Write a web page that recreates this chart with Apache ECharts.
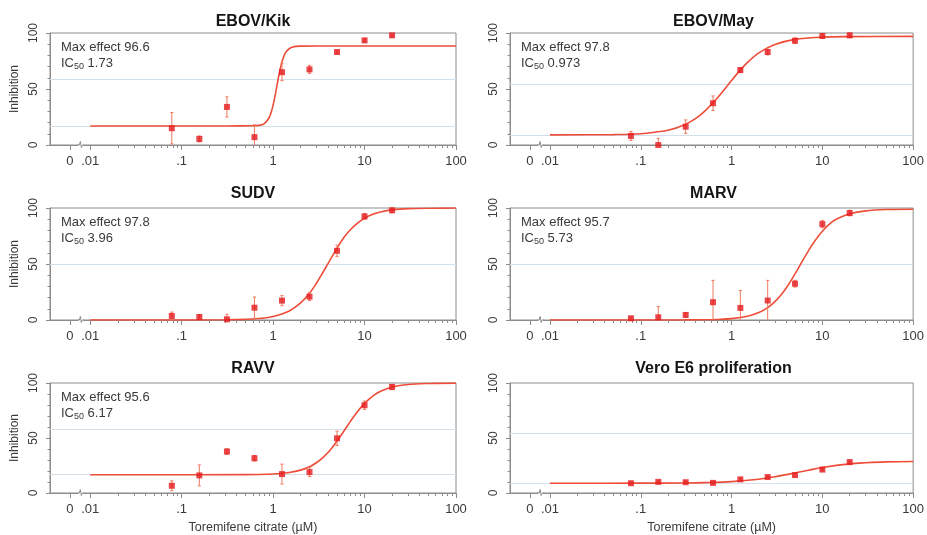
<!DOCTYPE html>
<html><head><meta charset="utf-8">
<script src="https://cdn.jsdelivr.net/npm/echarts@6/dist/echarts.min.js"></script>
<style>html,body{margin:0;padding:0;background:#fff}#c{width:927px;height:535px}</style>
</head><body><div id="c"></div>
<script>
// ---------- data ----------
const concentrations = [0.078, 0.156, 0.3125, 0.625, 1.25, 2.5, 5, 10, 20];
const panelTitles = ['EBOV/Kik', 'EBOV/May', 'SUDV', 'MARV', 'RAVV', 'Vero E6 proliferation'];
const maxEffect = ['96.6', '97.8', '97.8', '95.7', '95.6', null];
const ic50 = ['1.73', '0.973', '3.96', '5.73', '6.17', null];
const xTickValues = [0.006, 0.01, 0.1, 1, 10, 100];
const xTickLabels = ['0', '.01', '.1', '1', '10', '100'];
const breakConc = 0.0079;

const kikMean = [15, 5.4, 34, 7, 65, 67.5, 83, 93.4, 97.9];
const kikErr  = [14, 2.7, 9, 11, 7.5, 3.6, 1.2, 1.2, 1.2];
const kikFitX = [0.01, 0.3, 0.6, 0.7, 0.8, 0.9, 0.95, 1.0, 1.05, 1.1, 1.15, 1.2, 1.3, 1.4, 1.6, 2, 5, 100];
const kikFitY = [17, 17, 17.2, 17.5, 19.1, 24.1, 28.9, 35.6, 43.8, 52.7, 61.3, 68.6, 78.6, 83.7, 87.3, 88.3, 88.4, 88.4];

const mayMean = [8.1, 0, 16.4, 37.3, 66.9, 83, 93.1, 97.3, 97.9];
const mayErr  = [4, 6, 6, 6.5, 2, 2.5, 2.5, 2, 2];
const mayFitX = [0.01, 0.05, 0.1, 0.2, 0.3, 0.4, 0.5, 0.7, 0.9, 1.2, 1.5, 2, 3, 5, 10, 20, 100];
const mayFitY = [9, 9.3, 10.1, 13.1, 17.8, 23.5, 29.8, 42.2, 53, 65.3, 73.7, 82.2, 89.7, 94.3, 96.3, 96.8, 97];

const sudvMean = [3.6, 2.7, 0.6, 11, 17.3, 20.9, 61.8, 92.5, 97.9];
const sudvErr  = [3.5, 2, 4.5, 9.5, 4.5, 3.5, 5, 2.5, 2];
const sudvFitX = [0.01, 0.1, 0.3, 0.5, 0.7, 1, 1.5, 2, 2.5, 3, 3.5, 4, 5, 6, 7, 8.5, 10, 12.5, 15, 20, 30, 50, 100];
const sudvFitY = [0, 0, 0.2, 0.6, 1.3, 3.1, 8.1, 15.3, 23.9, 33.3, 42.4, 50.6, 64.2, 74.1, 80.6, 86.9, 91, 94.6, 96.5, 98.3, 99.4, 99.8, 100];

const marvMean = [1.5, 2.4, 4.5, 15.9, 10.8, 17.4, 32.4, 85.6, 95.5];
const marvErr  = [1, 9.6, 2, 19.5, 15.6, 18, 3, 3.2, 2.5];
const marvFitX = [0.01, 0.3, 0.5, 0.7, 1, 1.5, 2, 2.5, 3, 3.5, 4, 4.5, 5, 6, 7, 8, 10, 12.5, 15, 20, 30, 50, 100];
const marvFitY = [0, 0.1, 0.2, 0.5, 1.2, 3.4, 6.6, 11, 16.4, 22.3, 28.6, 34.9, 41.1, 52.4, 61.5, 69, 79.3, 87, 90.8, 94.8, 97.4, 98.6, 98.9];

const ravvMean = [6.6, 16, 37.7, 31.6, 17.2, 19, 49.7, 79.8, 96.4];
const ravvErr  = [4.5, 9.5, 2.5, 2.5, 9, 4, 6.5, 3.8, 2.5];
const ravvFitX = [0.01, 0.5, 1, 1.5, 2, 2.5, 3, 3.5, 4, 4.5, 5, 6, 7, 8, 10, 12.5, 15, 20, 30, 50, 100];
const ravvFitY = [16.6, 16.7, 17.3, 18.7, 20.8, 23.8, 27.7, 32.2, 37, 42.1, 47.2, 56.8, 65.1, 71.9, 81.5, 88.6, 92.5, 96.3, 98.7, 99.6, 99.9];

const veroMean = [8.9, 10.1, 9.8, 9.2, 12.4, 14.5, 16.3, 21.3, 28.1];
const veroErr  = [1, 1, 1, 1, 1, 1, 1.2, 1, 1];
const veroFitX = [0.01, 0.1, 0.3, 0.5, 1, 2, 3, 5, 7, 10, 20, 30, 50, 100];
const veroFitY = [8.9, 8.95, 9.15, 9.44, 10.35, 12.5, 14.7, 18.2, 20.7, 23.2, 26.5, 27.5, 28.3, 28.7];

const refLow = [17, 9, 0, 0, 16.6, 8.9];
const refMid = [58.5, 54.5, 50, 50, 58.3, 54.45];

// ---------- build ----------
const panels = [
  [kikMean, kikErr, kikFitX, kikFitY],
  [mayMean, mayErr, mayFitX, mayFitY],
  [sudvMean, sudvErr, sudvFitX, sudvFitY],
  [marvMean, marvErr, marvFitX, marvFitY],
  [ravvMean, ravvErr, ravvFitX, ravvFitY],
  [veroMean, veroErr, veroFitX, veroFitY]
];
const L = Math.log10;
const FONT = "'Liberation Sans', Arial, Helvetica, sans-serif";
const AX = '#8c8c8c';
const TXT = '#3a3a3a';
const RED = '#e5191d';
const CURVE = '#ee4d39';
const ERR = '#f07a5c';
const XMIN = -2.44, XMAX = 2;
const majorTicks = xTickValues.map(L);
const minorTicks = [];
for (let d = -2; d < 2; d++) for (let k = 2; k <= 9; k++) minorTicks.push(d + L(k));
const layout = [
  {left: 50, width: 406, top: 33, height: 112},
  {left: 510, width: 407, top: 33, height: 112},
  {left: 50, width: 406, top: 208, height: 112},
  {left: 510, width: 407, top: 208, height: 112},
  {left: 50, width: 406, top: 383, height: 111},
  {left: 510, width: 407, top: 383, height: 111}
];
const titleY = [22, 22, 194, 194, 369, 369];

const grids = [], xAxes = [], yAxes = [], series = [], graphics = [];
panels.forEach((p, i) => {
  const [mean, err, fx, fy] = p;
  const g = layout[i];
  const isLeft = i % 2 === 0;
  const isBottom = i >= 4;
  grids.push({left: g.left, top: g.top, width: g.width, height: g.height, show: true,
    borderColor: AX, borderWidth: 1, backgroundColor: 'transparent'});
  xAxes.push({
    type: 'value', gridIndex: i, min: XMIN, max: XMAX, position: 'bottom',
    axisLine: {show: true, onZero: false, lineStyle: {color: AX, width: 1}},
    axisTick: {show: true, customValues: majorTicks, length: 5, lineStyle: {color: AX}},
    axisLabel: {customValues: majorTicks, fontSize: 13, color: TXT, fontFamily: FONT, margin: 10,
      showMinLabel: true, showMaxLabel: true, hideOverlap: false,
      formatter: v => { const k = majorTicks.findIndex(t => Math.abs(t - v) < 1e-6); return k >= 0 ? xTickLabels[k] : ''; }},
    splitLine: {show: false},
    name: isBottom ? 'Toremifene citrate (\u00b5M)' : '', nameLocation: 'middle', nameGap: 28,
    nameTextStyle: {fontSize: 12.5, color: TXT, fontFamily: FONT}
  });
  xAxes.push({
    type: 'value', gridIndex: i, min: XMIN, max: XMAX, position: 'bottom', offset: 0,
    axisLine: {show: false, onZero: false},
    axisTick: {show: true, customValues: minorTicks, length: 3, lineStyle: {color: AX}},
    axisLabel: {show: false}, splitLine: {show: false}
  });
  yAxes.push({
    type: 'value', gridIndex: i, min: 0, max: 100, interval: 50, position: 'left',
    axisLine: {show: true, onZero: false, lineStyle: {color: AX}},
    axisTick: {show: true, length: 4, lineStyle: {color: AX}},
    minorTick: {show: true, splitNumber: 5, length: 2.5, lineStyle: {color: AX}},
    axisLabel: {rotate: 90, fontSize: 12, color: TXT, fontFamily: FONT, margin: 10},
    splitLine: {show: false}, minorSplitLine: {show: false},
    name: isLeft ? 'Inhibition' : '', nameLocation: 'middle', nameGap: 29,
    nameTextStyle: {fontSize: 12, color: TXT, fontFamily: FONT}
  });
  const refs = [refMid[i]];
  if (refLow[i] > 0) refs.push(refLow[i]);
  series.push({
    type: 'line', xAxisIndex: 2 * i, yAxisIndex: i, z: 1, data: [], silent: true,
    markLine: {silent: true, z: 1, symbol: ['none', 'none'], label: {show: false}, animation: false,
      lineStyle: {color: '#d4e0e9', width: 1, type: 'solid'},
      emphasis: {disabled: true},
      data: refs.map(v => ({yAxis: v}))}
  });
  series.push({
    type: 'line', xAxisIndex: 2 * i, yAxisIndex: i, z: 3,
    data: fx.map((c, j) => [L(c), fy[j]]),
    smooth: 0.35, showSymbol: false, clip: true,
    lineStyle: {color: CURVE, width: 1.6}
  });
  series.push({
    type: 'custom', xAxisIndex: 2 * i, yAxisIndex: i, z: 4,
    data: concentrations.map((c, j) => [L(c), mean[j], err[j]]),
    renderItem: (params, api) => {
      const x = api.value(0), y = api.value(1), e = api.value(2);
      const hi = api.coord([x, Math.min(y + e, 100)]);
      const lo = api.coord([x, Math.max(y - e, 0)]);
      const ch = [{type: 'line', shape: {x1: hi[0], y1: hi[1], x2: lo[0], y2: lo[1]}, style: {stroke: ERR, lineWidth: 1}}];
      if (y + e <= 100) ch.push({type: 'line', shape: {x1: hi[0] - 1.6, y1: hi[1], x2: hi[0] + 1.6, y2: hi[1]}, style: {stroke: ERR, lineWidth: 1}});
      if (y - e >= 0) ch.push({type: 'line', shape: {x1: lo[0] - 1.6, y1: lo[1], x2: lo[0] + 1.6, y2: lo[1]}, style: {stroke: ERR, lineWidth: 1}});
      return {type: 'group', children: ch};
    }
  });
  series.push({
    type: 'scatter', xAxisIndex: 2 * i, yAxisIndex: i, z: 5, clip: true,
    symbol: 'rect', symbolSize: 6, itemStyle: {color: RED},
    data: concentrations.map((c, j) => [L(c), mean[j]])
  });
  series.push({
    type: 'custom', xAxisIndex: 2 * i, yAxisIndex: i, z: 6,
    data: [[L(breakConc), 0]],
    renderItem: (params, api) => {
      const q = api.coord([api.value(0), api.value(1)]);
      return {type: 'group', children: [
        {type: 'rect', shape: {x: q[0] - 2.5, y: q[1] - 1.5, width: 5, height: 3}, style: {fill: '#fff'}},
        {type: 'polyline', shape: {points: [[q[0] - 3.5, q[1]], [q[0] - 1.5, q[1]], [q[0] - 0.5, q[1] - 3.5], [q[0] + 0.5, q[1] + 2.5], [q[0] + 1.5, q[1]], [q[0] + 3.5, q[1]]]},
          style: {stroke: AX, fill: null, lineWidth: 1}}
      ]};
    }
  });
  graphics.push({type: 'text', x: g.left + g.width / 2, y: titleY[i], z: 10,
    style: {text: panelTitles[i], font: 'bold 16px ' + FONT, fill: '#151515',
      align: 'center', verticalAlign: 'middle', textAlign: 'center', textVerticalAlign: 'middle'}});
  if (maxEffect[i]) {
    graphics.push({type: 'text', x: g.left + 11, y: g.top + 6, z: 10,
      style: {
        text: '{t|Max effect ' + maxEffect[i] + '}\n{t|IC}{s|50}{t| ' + ic50[i] + '}',
        align: 'left', verticalAlign: 'top', textAlign: 'left', textVerticalAlign: 'top',
        rich: {
          t: {fontSize: 13, lineHeight: 16, fontFamily: FONT, fill: TXT, color: TXT},
          s: {fontSize: 9, lineHeight: 10, fontFamily: FONT, fill: TXT, color: TXT, verticalAlign: 'bottom'}
        }
      }});
  }
});

const chart = echarts.init(document.getElementById('c'), null, {renderer: 'canvas'});
chart.setOption({
  backgroundColor: '#fff',
  animation: false,
  textStyle: {fontFamily: FONT},
  grid: grids, xAxis: xAxes, yAxis: yAxes, series: series, graphic: graphics
});
</script></body></html>
